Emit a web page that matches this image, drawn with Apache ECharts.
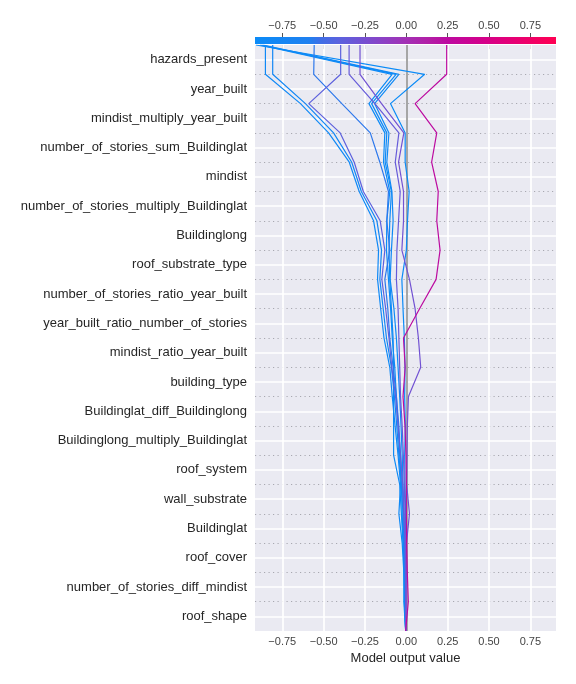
<!DOCTYPE html>
<html>
<head>
<meta charset="utf-8">
<script src="https://cdn.jsdelivr.net/npm/echarts@6/dist/echarts.min.js"></script>
<style>html,body{margin:0;padding:0;background:#fff}#c{width:576px;height:684px}</style>
</head>
<body>
<div id="c"></div>
<script>
// ---------------- data ----------------
const features = ['hazards_present','year_built','mindist_multiply_year_built','number_of_stories_sum_Buildinglat','mindist','number_of_stories_multiply_Buildinglat','Buildinglong','roof_substrate_type','number_of_stories_ratio_year_built','year_built_ratio_number_of_stories','mindist_ratio_year_built','building_type','Buildinglat_diff_Buildinglong','Buildinglong_multiply_Buildinglat','roof_system','wall_substrate','Buildinglat','roof_cover','number_of_stories_diff_mindist','roof_shape'];
const xTicks = [-0.75,-0.5,-0.25,0,0.25,0.5,0.75];
const xMin = -0.915, xMax = 0.905;
const baseValue = -0.004;
// cumulative model output at each feature boundary, from top (final output) to bottom (base value)
const path1  = [-0.909, 0.111,-0.096,-0.007,-0.007, 0.017, 0.007, 0.000,-0.027,-0.020,-0.012,-0.008,-0.010,-0.006,-0.010,-0.008,-0.004,-0.006,-0.003,-0.008,-0.004];
const path2  = [-0.885,-0.086,-0.226,-0.130,-0.138,-0.100,-0.118,-0.120,-0.108,-0.095,-0.085,-0.070,-0.060,-0.050,-0.040,-0.030,-0.025,-0.018,-0.015,-0.010,-0.004];
const path3  = [-0.875,-0.062,-0.210,-0.118,-0.128,-0.090,-0.100,-0.105,-0.100,-0.090,-0.080,-0.077,-0.077,-0.077,-0.077,-0.040,-0.030,-0.020,-0.012,-0.015,-0.004];
const path4  = [-0.865,-0.045,-0.192,-0.105,-0.118,-0.087,-0.080,-0.090,-0.098,-0.075,-0.060,-0.050,-0.040,-0.032,-0.025,-0.020,-0.015,-0.010,-0.008,-0.006,-0.004];
const path5  = [-0.852,-0.852,-0.640,-0.470,-0.345,-0.285,-0.198,-0.168,-0.174,-0.155,-0.135,-0.100,-0.085,-0.068,-0.050,-0.035,-0.045,-0.025,-0.015,-0.012,-0.004];
const path6  = [-0.808,-0.808,-0.610,-0.440,-0.330,-0.272,-0.178,-0.150,-0.160,-0.140,-0.120,-0.090,-0.072,-0.058,-0.045,-0.030,-0.020,-0.015,-0.010,-0.008,-0.004];
const path7  = [-0.557,-0.560,-0.390,-0.218,-0.160,-0.108,-0.118,-0.100,-0.130,-0.112,-0.100,-0.080,-0.060,-0.045,-0.035,-0.025,-0.015,-0.010,-0.006,-0.005,-0.004];
const path8  = [-0.397,-0.397,-0.590,-0.400,-0.315,-0.260,-0.158,-0.130,-0.148,-0.125,-0.105,-0.088,-0.065,-0.050,-0.035,-0.022,-0.015,-0.008,-0.005,-0.003,-0.004];
const path9  = [-0.346,-0.346,-0.190,-0.045,-0.067,-0.037,-0.047,-0.057,-0.060,-0.050,-0.045,-0.040,-0.035,-0.025,-0.018,-0.012,-0.008,-0.005,-0.003,-0.002,-0.004];
const path10 = [-0.280,-0.280,-0.150,-0.015,-0.047,-0.017,-0.017,-0.027, 0.019, 0.053, 0.073, 0.087, 0.013, 0.006, 0.004, 0.002, 0.019, 0.001, 0.000,-0.002,-0.004];
const path11 = [ 0.244, 0.244, 0.053, 0.184, 0.153, 0.193, 0.184, 0.204, 0.180, 0.080,-0.017,-0.007,-0.020,-0.008,-0.002, 0.000, 0.000, 0.002, 0.006, 0.012,-0.004];
const paths = [path1,path2,path3,path4,path5,path6,path7,path8,path9,path10,path11];

// ---------------- styling ----------------
const FONT = '"Liberation Sans", Arial, sans-serif';
const stops = [[0,'#0b8bf7'],[0.18,'#1f80f0'],[0.22,'#406de6'],[0.28,'#5b62de'],[0.35,'#7252d3'],[0.43,'#8d40c4'],[0.50,'#a231b5'],[0.58,'#b31ea6'],[0.64,'#bd0aa0'],[0.76,'#d4008a'],[0.87,'#e80072'],[1,'#ff0052']];
function hex2rgb(h){return [parseInt(h.substr(1,2),16),parseInt(h.substr(3,2),16),parseInt(h.substr(5,2),16)];}
function cmap(v){
  let t=(v-xMin)/(xMax-xMin); t=Math.max(0,Math.min(1,t));
  for(let i=0;i<stops.length-1;i++){
    const [t0,c0]=stops[i],[t1,c1]=stops[i+1];
    if(t<=t1){const f=(t-t0)/(t1-t0);const a=hex2rgb(c0),b=hex2rgb(c1);
      return 'rgb('+a.map((x,j)=>Math.round(x+(b[j]-x)*f)).join(',')+')';}
  }
  return stops[stops.length-1][1];
}
const fmt = v => (v<0?'\u2212':'')+Math.abs(v).toFixed(2);

const halfLevels=[]; for(let i=0;i<features.length;i++) halfLevels.push(i+0.5);
const innerLevels=[]; for(let i=1;i<features.length;i++) innerLevels.push(i);

const series=[];
series.push({type:'line',data:[],silent:true,z:1,
  markLine:{silent:true,symbol:'none',z:3,label:{show:false},animation:false,
    lineStyle:{color:'#a8a8b0',width:1,type:[1.2,3.3]},
    data:innerLevels.map(v=>({yAxis:v}))}});
series.push({type:'line',data:[],silent:true,z:1,
  markLine:{silent:true,symbol:'none',z:4,label:{show:false},animation:false,
    lineStyle:{color:'#ffffff',width:1.7,type:'solid'},
    data:halfLevels.map(v=>({yAxis:v})).concat(xTicks.map(v=>({xAxis:v})))}});
series.push({type:'line',data:[],silent:true,z:1,
  markLine:{silent:true,symbol:'none',z:5,label:{show:false},animation:false,
    lineStyle:{color:'#a6a6a6',width:2,type:'solid'},
    data:[{xAxis:baseValue}]}});
paths.forEach(p=>{
  series.push({type:'line',z:10,showSymbol:false,symbol:'none',silent:true,
    lineStyle:{color:cmap(p[0]),width:1.2},
    data:p.map((v,k)=>[v,k])});
});

const chart = echarts.init(document.getElementById('c'),null,{renderer:'canvas'});
chart.setOption({
  animation:false,
  backgroundColor:'#ffffff',
  textStyle:{fontFamily:FONT},
  grid:{left:255,top:45,width:301,height:586,show:true,backgroundColor:'#eaeaf2',borderWidth:0},
  xAxis:[
    {type:'value',min:xMin,max:xMax,position:'bottom',splitLine:{show:false},axisLine:{show:false},
     axisTick:{show:true,customValues:xTicks,length:4,lineStyle:{color:'#555'}},
     axisLabel:{customValues:xTicks,formatter:fmt,fontSize:11,color:'#444',margin:5,fontFamily:FONT},
     name:'Model output value',nameLocation:'middle',nameGap:19,
     nameTextStyle:{fontSize:13,color:'#262626',fontFamily:FONT}},
    {type:'value',min:xMin,max:xMax,position:'top',offset:8,splitLine:{show:false},axisLine:{show:false},
     axisTick:{show:true,customValues:xTicks,length:4,lineStyle:{color:'#555'}},
     axisLabel:{customValues:xTicks,formatter:fmt,fontSize:11,color:'#444',margin:6,fontFamily:FONT}}
  ],
  yAxis:[
    {type:'value',min:0,max:features.length,inverse:true,show:false},
    {type:'category',data:features,inverse:true,position:'left',boundaryGap:true,
     axisLine:{show:false},axisTick:{show:false},splitLine:{show:false},
     axisLabel:{fontSize:13,color:'#262626',margin:8,fontFamily:FONT}}
  ],
  graphic:[{type:'rect',shape:{x:255,y:37,width:301,height:7},silent:true,
    style:{fill:new echarts.graphic.LinearGradient(0,0,1,0,stops.map(s=>({offset:s[0],color:s[1]})))}}],
  series:series
});
</script>
</body>
</html>
